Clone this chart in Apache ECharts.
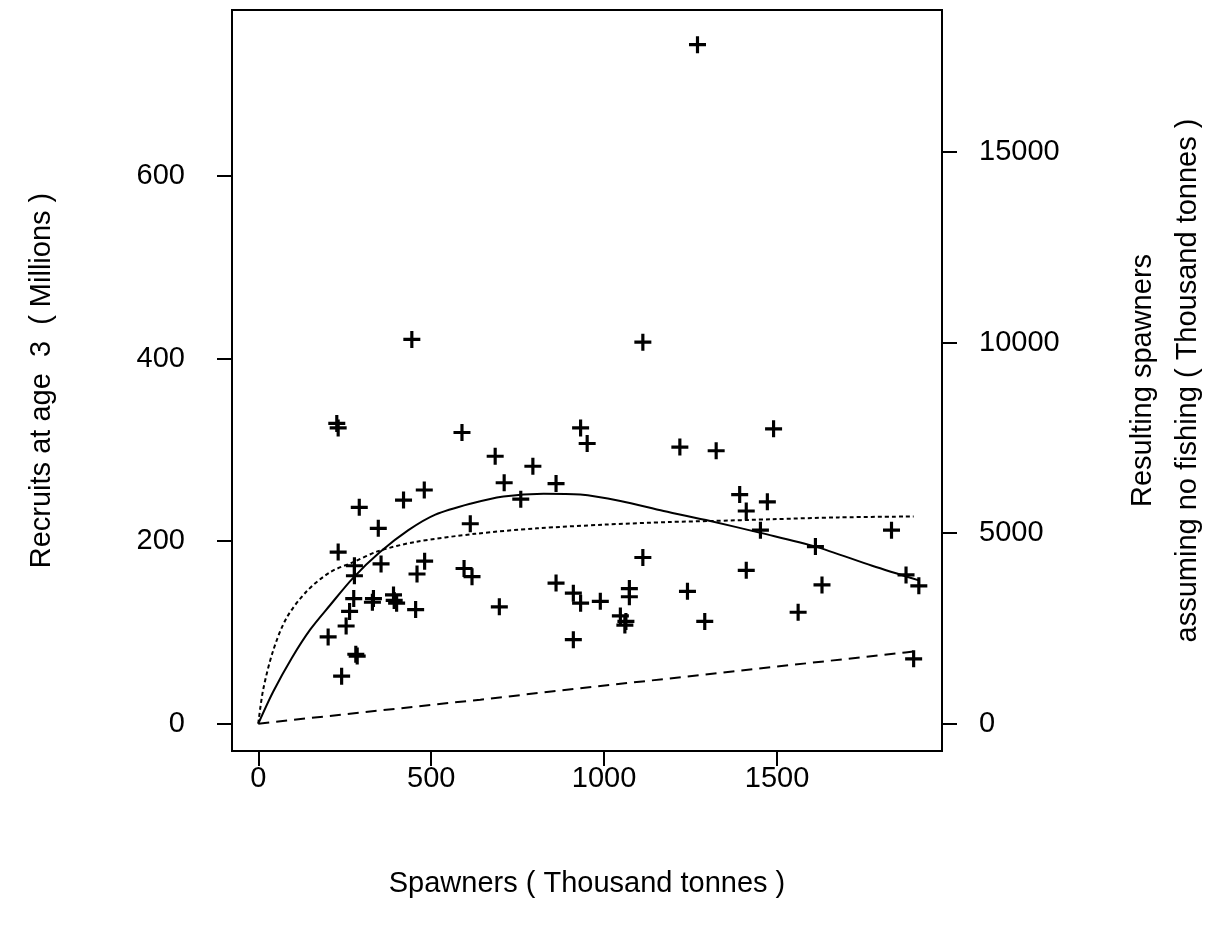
<!DOCTYPE html>
<html>
<head>
<meta charset="utf-8">
<script src="https://cdn.jsdelivr.net/npm/echarts@6/dist/echarts.min.js"></script>
<style>
  html, body { margin: 0; padding: 0; background: #ffffff; }
  #chart { width: 1211px; height: 952px; }
</style>
</head>
<body>
<div id="chart"></div>
<script>
// ---- data ----
const spawners = [444, 227, 231, 589, 480, 420, 292, 347, 613, 231, 278, 355, 481, 459, 278, 595, 618, 276, 333, 330,
  391, 393, 400, 455, 264, 254, 202, 282, 286, 241, 1112, 932, 951, 1219, 685, 794, 711, 861, 759, 1112,
  861, 697, 911, 932, 989, 1073, 1073, 1241, 1047, 1063, 1060, 1291, 911, 1490, 1324, 1392, 1472, 1411, 1452, 1831,
  1611, 1411, 1630, 1873, 1910, 1561, 1895, 1270];
const recruits = [421, 329, 324, 319, 256, 245, 237, 214, 219, 188, 173, 175, 178, 164, 162, 170, 161, 137, 137, 133,
  141, 135, 132, 125, 123, 107, 95, 76, 74, 52, 418, 324, 307, 303, 293, 282, 264, 263, 246, 182,
  154, 128, 143, 132, 134, 148, 139, 145, 118, 112, 108, 112, 92, 323, 299, 251, 243, 233, 212, 212,
  194, 168, 152, 163, 151, 122, 71, 744];

// solid curve (fitted recruitment, left axis)
const solidS = [0, 43, 97, 150, 208, 275, 352, 434, 512, 613, 709, 825, 931, 1047, 1172, 1307, 1452, 1611, 1775, 1910];
const solidR = [0, 35, 72, 103, 130, 160, 188, 212, 229, 241, 249, 252, 251, 244, 233, 222, 209, 194, 173, 157];

// dotted curve (second fit, left axis)
const dottedS = [0, 14, 43, 82, 140, 208, 275, 347, 453, 627, 806, 998, 1191, 1307, 1486, 1678, 1895];
const dottedR = [0, 37, 80, 116, 145, 166, 177, 189, 199, 208, 214, 218, 221, 222, 224, 226, 227];

// dashed line (resulting spawners, right axis)
const dashedS = [0, 642, 912, 1288, 1871, 1895];
const dashedSp = [0, 630, 910, 1285, 1870, 1893];

const xTicks = [0, 500, 1000, 1500];
const leftTicks = [0, 200, 400, 600];
const rightTicks = [0, 5000, 10000, 15000];

const xTitle = 'Spawners ( Thousand tonnes )';
const leftTitle = 'Recruits at age  3  ( Millions )';
const rightTitle = 'Resulting spawners\nassuming no fishing ( Thousand tonnes )';

// ---- chart ----
const FONT = 'Liberation Sans, Arial, Helvetica, sans-serif';
const FS = 29;
const plusPath = 'path://M7,0 H10.2 V7 H17.2 V10.2 H10.2 V17.2 H7 V10.2 H0 V7 H7 Z';

const zip = (a, b) => a.map((v, i) => [v, b[i]]);
const plain = v => String(v);

const tickStyle = { show: true, length: 15, inside: false, lineStyle: { color: '#000', width: 2 } };
const labelStyle = { color: '#000', fontSize: FS, fontFamily: FONT, formatter: plain };
const lineStyleAxis = { show: true, onZero: false, lineStyle: { color: '#000', width: 2 } };

const chart = echarts.init(document.getElementById('chart'), null, { renderer: 'canvas' });
chart.setOption({
  backgroundColor: '#ffffff',
  animation: false,
  grid: {
    left: 232, top: 10, width: 710, height: 741,
    outerBoundsMode: 'none', containLabel: false,
    show: true, borderColor: '#000', borderWidth: 2, backgroundColor: 'transparent'
  },
  xAxis: {
    type: 'value', min: -76, max: 1977,
    axisLine: lineStyleAxis,
    axisTick: Object.assign({}, tickStyle, { customValues: xTicks }),
    axisLabel: Object.assign({}, labelStyle, { customValues: xTicks, margin: 13 }),
    splitLine: { show: false },
    name: xTitle, nameLocation: 'middle', nameGap: 118,
    nameTextStyle: { color: '#000', fontSize: FS, fontFamily: FONT }
  },
  yAxis: [
    {
      type: 'value', min: -30, max: 782, position: 'left',
      axisLine: lineStyleAxis,
      axisTick: Object.assign({}, tickStyle, { customValues: leftTicks }),
      axisLabel: Object.assign({}, labelStyle, { customValues: leftTicks, margin: 47 }),
      splitLine: { show: false },
      name: leftTitle, nameLocation: 'middle', nameGap: 176,
      nameTextStyle: { color: '#000', fontSize: FS, fontFamily: FONT }
    },
    {
      type: 'value', min: -718, max: 18730, position: 'right',
      axisLine: lineStyleAxis,
      axisTick: Object.assign({}, tickStyle, { customValues: rightTicks }),
      axisLabel: Object.assign({}, labelStyle, { customValues: rightTicks, margin: 37 }),
      splitLine: { show: false },
      name: rightTitle, nameLocation: 'middle', nameGap: 178,
      nameTextStyle: { color: '#000', fontSize: FS, fontFamily: FONT, lineHeight: 45 }
    }
  ],
  series: [
    {
      name: 'observed', type: 'scatter', yAxisIndex: 0,
      data: zip(spawners, recruits),
      symbol: plusPath, symbolSize: 17,
      itemStyle: { color: '#000', opacity: 1 }, z: 3
    },
    {
      name: 'fit', type: 'line', yAxisIndex: 0,
      data: zip(solidS, solidR), smooth: 0.3, showSymbol: false,
      lineStyle: { color: '#000', width: 2, type: 'solid' }
    },
    {
      name: 'fit2', type: 'line', yAxisIndex: 0,
      data: zip(dottedS, dottedR), smooth: 0.3, showSymbol: false,
      lineStyle: { color: '#000', width: 2, type: [4, 3] }
    },
    {
      name: 'spawners', type: 'line', yAxisIndex: 1,
      data: zip(dashedS, dashedSp), showSymbol: false,
      lineStyle: { color: '#000', width: 2, type: [11, 7] }
    }
  ]
});
</script>
</body>
</html>
